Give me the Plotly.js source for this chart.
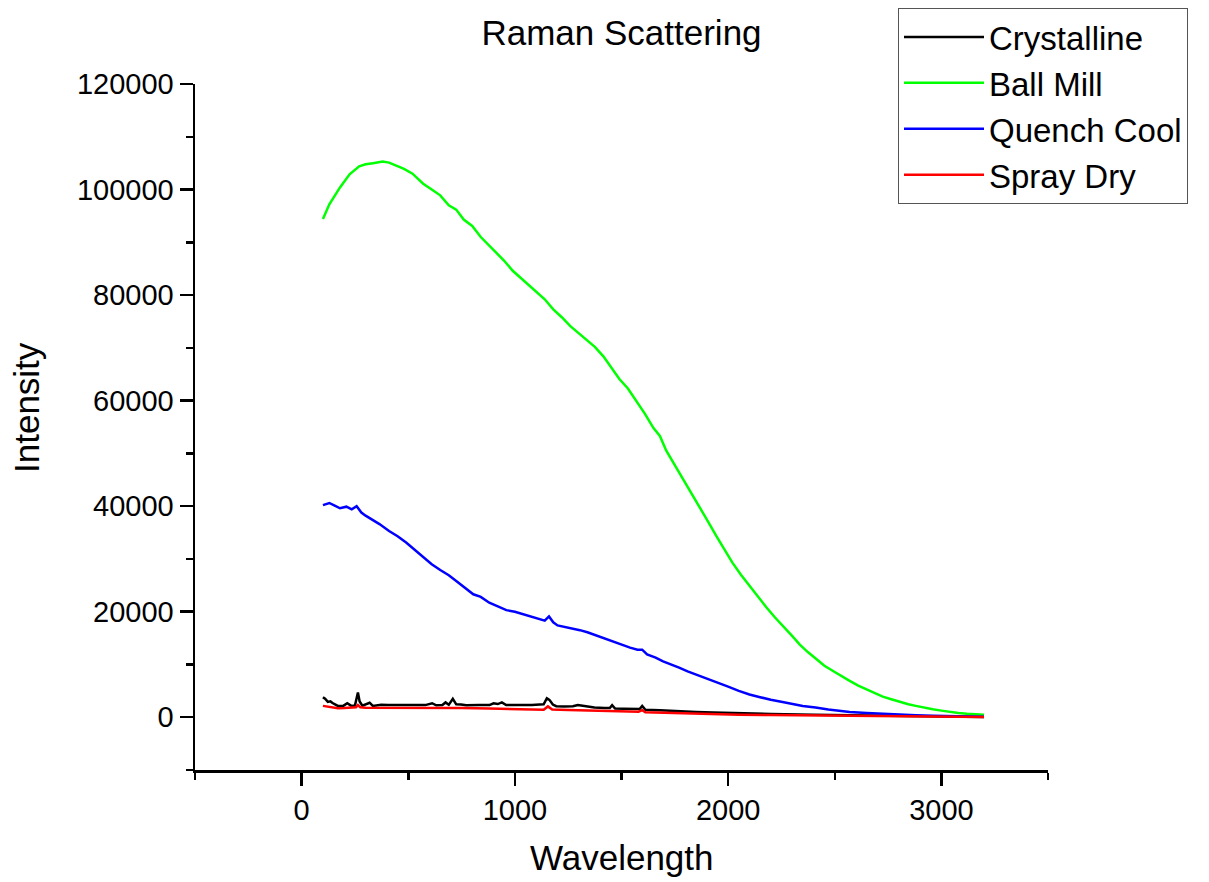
<!DOCTYPE html>
<html>
<head>
<meta charset="utf-8">
<script src="https://cdn.plot.ly/plotly-3.0.1.min.js"></script>
<style>html,body{margin:0;padding:0;background:#fff;}#chart{width:1209px;height:882px;}</style>
</head>
<body>
<div id="chart"></div>
<script>
// Series names
const seriesNames = ["Crystalline", "Ball Mill", "Quench Cool", "Spray Dry"];

// Crystalline (black)
const crystallineX = [100,110,123,135,145,170,195,214,233,250,264,272,285,319,334,373,405,459,537,580,612,631,660,675,690,709,725,748,772,830,881,900,920,939,959,1000,1037,1080,1116,1135,1150,1162,1178,1194,1230,1272,1295,1319,1373,1420,1445,1456,1470,1510,1553,1585,1597,1612,1680,1760,1850,1930,2000,2100,2200,2400,2600,2800,3000,3200];
const crystallineY = [3800,3500,2900,3000,2700,2150,2150,2650,2150,2200,4700,3000,2200,2750,2150,2350,2300,2250,2300,2300,2650,2250,2300,2800,2350,3500,2450,2400,2250,2300,2300,2650,2500,2800,2300,2300,2250,2300,2400,2450,3600,3300,2400,2100,2050,2100,2300,2150,1850,1750,1750,2300,1650,1600,1500,1550,2150,1400,1300,1100,1000,900,800,700,600,450,320,200,120,60];

// Ball Mill (green)
const ballMillX = [100,130,180,225,270,300,335,380,410,445,480,520,570,610,650,690,725,760,800,840,880,920,950,990,1025,1060,1100,1140,1180,1220,1260,1300,1335,1375,1415,1450,1490,1530,1570,1610,1650,1680,1710,1750,1790,1830,1870,1910,1945,1985,2020,2060,2100,2140,2180,2220,2260,2300,2335,2375,2415,2450,2490,2530,2570,2610,2650,2690,2725,2765,2805,2845,2880,2920,2960,3000,3040,3080,3120,3160,3200];
const ballMillY = [94400,97200,100400,102900,104400,104800,105000,105300,105100,104500,103900,103000,101100,100000,98900,97000,96200,94300,93100,91000,89400,87800,86500,84600,83300,82000,80500,79200,77300,75800,74100,72800,71600,70200,68400,66500,64100,62300,59900,57500,54800,53300,50500,47800,45000,42300,39600,36800,34300,31700,29300,27000,24900,22800,20800,18900,17200,15400,13800,12300,11000,9800,8800,7800,6900,6000,5300,4500,3900,3400,2900,2450,2150,1800,1500,1250,1000,800,650,520,450];

// Quench Cool (blue)
const quenchCoolX = [100,130,155,180,210,235,258,280,300,320,365,410,450,490,530,570,610,650,690,725,765,805,840,880,920,960,1000,1040,1080,1115,1140,1160,1180,1200,1240,1270,1305,1340,1380,1420,1460,1500,1540,1575,1597,1620,1660,1695,1735,1770,1810,1850,1890,1930,1970,2000,2050,2100,2150,2200,2255,2300,2350,2410,2470,2530,2570,2650,2725,2800,2880,2960,3040,3120,3200];
const quenchCoolY = [40200,40600,40100,39600,39900,39400,40000,38800,38200,37700,36600,35300,34300,33100,31700,30300,29000,27900,26900,25800,24600,23300,22800,21700,21000,20300,20000,19500,19000,18600,18300,19100,18000,17400,17100,16900,16500,16100,15500,15000,14400,13800,13200,12800,12800,11900,11300,10600,10000,9400,8700,8100,7600,7000,6300,5800,5000,4300,3800,3300,2900,2500,2150,1850,1450,1200,1000,800,620,480,380,260,180,120,80];

// Spray Dry (red)
const sprayDryX = [100,120,145,170,200,240,255,264,275,300,350,450,553,650,750,881,1000,1100,1135,1155,1175,1250,1350,1444,1500,1580,1597,1612,1700,1819,1930,2050,2200,2400,2600,2800,3000,3200];
const sprayDryY = [2150,2000,1800,1700,1750,1850,1900,2300,1900,1800,1800,1850,1850,1800,1750,1650,1550,1450,1400,2050,1450,1350,1250,1100,1100,1050,1350,950,850,700,580,480,400,330,250,150,80,40];

const colors = ["#000000", "#00ff00", "#0000ff", "#ff0000"];
const xs = [crystallineX, ballMillX, quenchCoolX, sprayDryX];
const ys = [crystallineY, ballMillY, quenchCoolY, sprayDryY];

const FONT = "Arial, 'Liberation Sans', sans-serif";

const traces = seriesNames.map((n, i) => ({
  type: "scatter",
  mode: "lines",
  name: n,
  x: xs[i],
  y: ys[i],
  line: {color: colors[i], width: 2.5}
}));

const axisCommon = {
  showline: true, linecolor: "#000", linewidth: 2.5,
  ticks: "outside", ticklen: 13, tickwidth: 2.5, tickcolor: "#000",
  showgrid: false, zeroline: false, mirror: false,
  tickfont: {family: FONT, size: 29, color: "#000"}
};

const layout = {
  width: 1209, height: 882,
  paper_bgcolor: "#fff", plot_bgcolor: "#fff",
  margin: {l: 195, r: 161, t: 84, b: 112, autoexpand: false},
  font: {family: FONT, color: "#000"},
  title: {text: "Raman Scattering", font: {family: FONT, size: 35, color: "#000"},
          x: 0.5, xref: "paper", y: 1 - 33/882, yref: "container", yanchor: "middle"},
  xaxis: Object.assign({}, axisCommon, {
    range: [-500, 3500], dtick: 1000, tick0: 0, tickformat: "d",
    minor: {dtick: 500, tick0: 0, ticks: "outside", ticklen: 7, tickwidth: 2.5, tickcolor: "#000"}
  }),
  yaxis: Object.assign({}, axisCommon, {
    range: [-10000, 120000], dtick: 20000, tick0: 0, tickformat: "d",
    minor: {dtick: 10000, tick0: 0, ticks: "outside", ticklen: 7, tickwidth: 2.5, tickcolor: "#000"}
  }),
  showlegend: true,
  legend: {
    xref: "container", yref: "container",
    x: 898/1209, y: 1 - 8/882, xanchor: "left", yanchor: "top",
    bordercolor: "#555", borderwidth: 1, bgcolor: "#fff",
    font: {family: FONT, size: 33, color: "#000"},
    itemwidth: 80, tracegroupgap: 0
  },
  annotations: [
    {text: "Wavelength", xref: "paper", yref: "paper", x: 0.5, y: (770-858)/686,
     xanchor: "center", yanchor: "middle", showarrow: false,
     font: {family: FONT, size: 35, color: "#000"}},
    {text: "Intensity", xref: "paper", yref: "paper", x: (27-195)/853, y: (770-408)/686,
     xanchor: "center", yanchor: "middle", showarrow: false, textangle: -90,
     font: {family: FONT, size: 35, color: "#000"}}
  ]
};

Plotly.newPlot("chart", traces, layout, {displayModeBar: false, staticPlot: true});
</script>
</body>
</html>
